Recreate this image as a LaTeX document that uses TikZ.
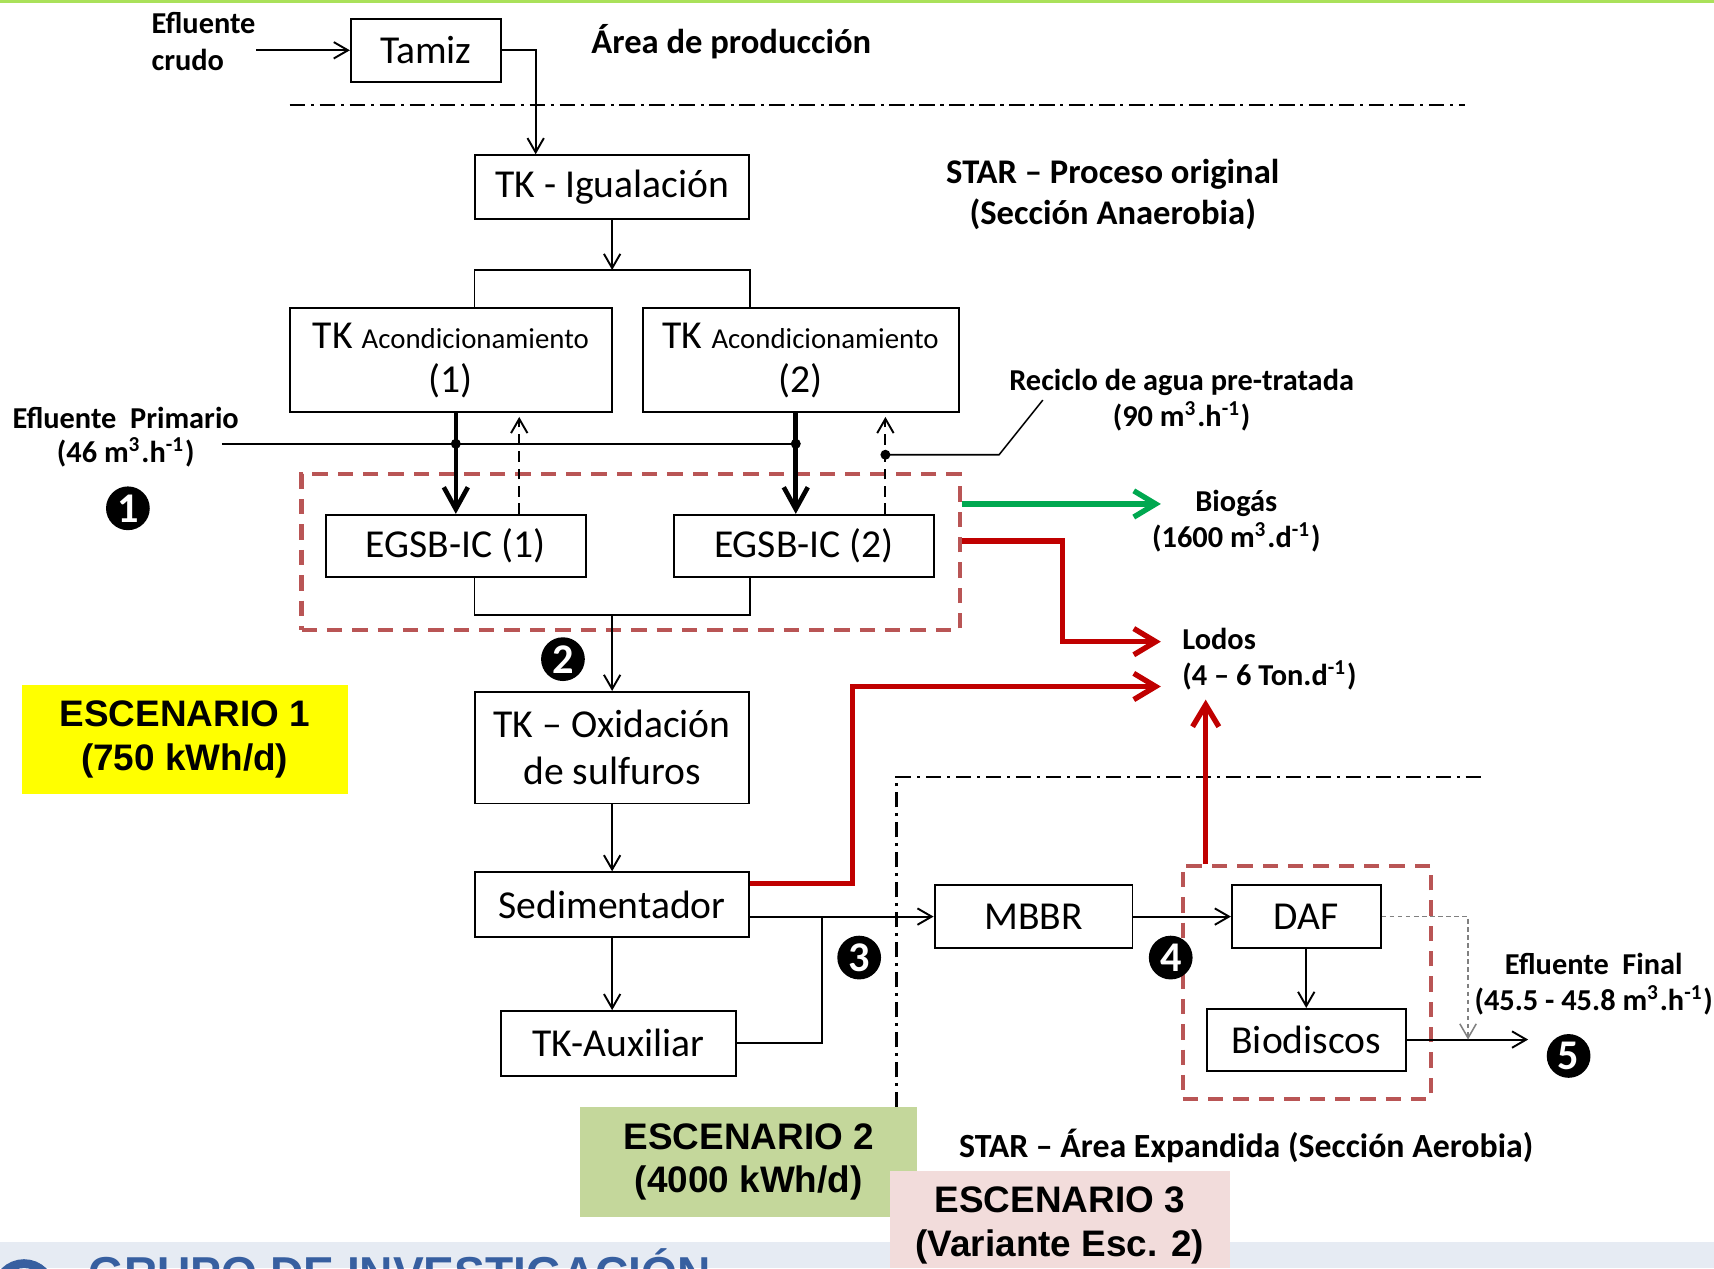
\documentclass[tikz,border=0pt]{standalone}
\usepackage{fontspec}
\setmainfont{Carlito}
\newfontfamily\arialfont{Liberation Sans}
\usetikzlibrary{calc}
\usetikzlibrary{arrows.meta}
\definecolor{topgreen}{RGB}{170,225,90}
\definecolor{biogreen}{RGB}{0,168,80}
\definecolor{sludgered}{RGB}{192,0,0}
\definecolor{zonered}{RGB}{185,85,85}
\definecolor{esconeyel}{RGB}{255,255,0}
\definecolor{esctwogrn}{RGB}{196,215,155}
\definecolor{escthreepk}{RGB}{242,220,219}
\definecolor{bandgray}{RGB}{230,235,243}
\definecolor{grupoblue}{RGB}{55,95,160}
\newcommand*\boxfont{\fontsize{10.3}{12.2}\selectfont}
\newcommand*\acfont{\fontsize{7.5}{11.4}\selectfont}
\newcommand*\labfont{\fontsize{7.9}{9.4}\selectfont\bfseries}
\newcommand*\titfont{\fontsize{9}{10.8}\selectfont\bfseries}
\newcommand*\scenfont{\arialfont\fontsize{9.6}{11.4}\selectfont\bfseries}
\newcommand*\numfont{\fontsize{11}{11}\selectfont\bfseries}
\newcommand*\mh{m\textsuperscript{3}.h\textsuperscript{-1}}

\begin{document}
\begin{tikzpicture}[
	x=0.01cm, y=-0.01cm,
	>={Straight Barb[length=1.3mm,width=1.5mm]},
	tkbox/.style={draw, line width=0.5pt, inner sep=0pt, align=center, font=\boxfont},
	lbl/.style={inner sep=0pt, align=center, font=\labfont},
	numdot/.style={circle, fill=black, text=white, inner sep=0pt, minimum size=0.4cm, font=\numfont},
	scenario/.style={inner sep=0pt, align=center, font=\scenfont},
	flowarr/.style={line width=0.5pt, ->},
	feedarr/.style={line width=1.2pt, -{Straight Barb[length=2mm,width=2.2mm]}},
	backarr/.style={line width=0.5pt, dash pattern=on 2.8pt off 1.7pt, ->, shorten >=1pt},
	dotarr/.style={gray, line width=0.4pt, dash pattern=on 1.2pt off 0.9pt, ->},
	gasarr/.style={biogreen, line width=1.4pt, -{Straight Barb[length=2mm,width=2.4mm]}},
	sludgearr/.style={sludgered, line width=1.4pt, -{Straight Barb[length=2mm,width=2.4mm]}},
	zonebox/.style={draw=zonered, line width=1.1pt, dash pattern=on 4pt off 2.6pt, inner sep=0pt},
	arealine/.style={line width=0.6pt, dash pattern=on 4pt off 1.5pt on 0.8pt off 1.5pt}]

	\useasboundingbox (0,0) rectangle (1568,1160);
	\fill[topgreen] (0,0) rectangle (1568,3);

	% production area
	\node[lbl, anchor=west, align=left] (crudo) at (138,38) {Efluente\\crudo};
	\node[tkbox, minimum width=1.37cm, minimum height=0.58cm] (tamiz) at (389.5,46) {Tamiz};
	\node[lbl, font=\titfont] (prod) at (669,38) {Área de producción};
	\draw[arealine] (265,96) -- (1340,96);

	% anaerobic section
	\node[tkbox, minimum width=2.5cm, minimum height=0.58cm] (igual) at (560,171) {TK - Igualación};
	\node[lbl, font=\titfont] (star1) at (1018,178) {STAR – Proceso original\\(Sección Anaerobia)};
	\node[tkbox, font=\fontsize{10.3}{11.4}\selectfont, minimum width=2.95cm, minimum height=0.95cm] (acond1) at (412.5,329.5) {TK {\acfont Acondicionamiento}\\(1)};
	\node[tkbox, font=\fontsize{10.3}{11.4}\selectfont, minimum width=2.89cm, minimum height=0.95cm] (acond2) at (732.5,329.5) {TK {\acfont Acondicionamiento}\\(2)};
	\node[zonebox, minimum width=6.02cm, minimum height=1.42cm] (anaer) at (577,505) {};
	\node[tkbox, minimum width=2.38cm, minimum height=0.57cm] (egsb1) at (417,499.5) {EGSB-IC (1)};
	\node[tkbox, minimum width=2.37cm, minimum height=0.57cm] (egsb2) at (735.5,499.5) {EGSB-IC (2)};
	\node[lbl, font=\fontsize{7.9}{8.8}\selectfont\bfseries] (prim) at (115,400) {Efluente\ \ Primario\\(46 \mh)};
	\node[numdot] (n1) at (117,465) {1};
	\node[lbl] (reciclo) at (1081,366) {Reciclo de agua pre-tratada\\(90 \mh)};

	\draw[flowarr] (crudo.east |- tamiz.west) -- (tamiz.west);
	\draw[flowarr] (tamiz.east) -| ($(igual.north west)+(56,0)$);

	\coordinate (tsplit) at (560,247);
	\draw[flowarr] (igual.south) -- (tsplit);
	\draw[line width=0.5pt] (acond1.north -| igual.west) |- (tsplit) -| (acond2.north -| igual.east);

	\coordinate (pin) at (203,406);
	\coordinate (j1) at (417,406);
	\coordinate (j2) at (728,406);
	\coordinate (rc1) at (475,406);
	\coordinate (rc2) at (810,416);
	\coordinate (lead) at (954,366);
	\draw[line width=0.5pt] (pin) -- (j2);
	\draw[feedarr] (acond1.south -| j1) -- (egsb1.north -| j1);
	\draw[feedarr] (acond2.south -| j2) -- (egsb2.north -| j2);
	\fill (j1) circle (1.3pt);
	\fill (j2) circle (1.3pt);
	\draw[backarr] (egsb1.north -| rc1) -- (acond1.south -| rc1);
	\draw[backarr] (egsb2.north -| rc2) -- (acond2.south -| rc2);
	\fill (rc2) circle (1.3pt);
	\draw[line width=0.4pt] (rc2) -- ++(104,0) -- (lead);

	% gas and sludge
	\node[lbl] (biogas) at (1131,477) {Biogás\\(1600 m\textsuperscript{3}.d\textsuperscript{-1})};
	\node[lbl, anchor=west, align=left] (lodos) at (1081,603) {Lodos\\(4 – 6 Ton.d\textsuperscript{-1})};
	\coordinate (gasend) at (1062,461);
	\coordinate (ld1) at (1062,587);
	\coordinate (ld2) at (1062,628);
	\coordinate (ld3) at (1103,640);
	\draw[gasarr] (anaer.east |- gasend) -- (gasend);
	\draw[sludgearr] ($(anaer.east)+(0,-10)$) -- ++(92,0) |- (ld1);

	% sulfide line
	\node[tkbox, minimum width=2.5cm, minimum height=1.02cm] (oxid) at (560,684) {TK – Oxidación\\de sulfuros};
	\node[tkbox, minimum width=2.5cm, minimum height=0.59cm] (sedim) at (560,827.5) {Sedimentador};
	\node[tkbox, minimum width=2.15cm, minimum height=0.59cm] (aux) at (565.5,954.5) {TK-Auxiliar};
	\coordinate (bsplit) at (560,563);
	\draw[line width=0.5pt] (egsb1.south -| oxid.west) |- (bsplit) -| (egsb2.south -| oxid.east);
	\draw[flowarr] (bsplit) -- (oxid.north);
	\node[numdot] (n2) at (515,603) {2};
	\draw[flowarr] (oxid.south) -- (sedim.north);
	\draw[flowarr] (sedim.south) -- (sedim.south |- aux.north);
	\draw[sludgearr] ($(sedim.east)+(0,-19)$) -- ++(94,0) |- (ld2);

	\node[scenario, fill=esconeyel, minimum width=2.98cm, minimum height=0.99cm] (esc1) at (169,676.5) {ESCENARIO 1\\(750 kWh/d)};

	% aerobic section
	\draw[arealine] (820,1013) |- (1358,711);
	\node[tkbox, minimum width=1.81cm, minimum height=0.57cm] (mbbr) at (945.5,838.5) {MBBR};
	\node[zonebox, minimum width=2.27cm, minimum height=2.13cm] (aerob) at (1195.5,898.5) {};
	\node[tkbox, minimum width=1.36cm, minimum height=0.57cm] (daf) at (1195,838.5) {DAF};
	\node[tkbox, minimum width=1.82cm, minimum height=0.57cm] (bio) at (1195,951.5) {Biodiscos};
	\coordinate (jx) at (752,838);
	\coordinate (efin) at (1398,951);
	\coordinate (dj) at (1343,951);
	\draw[flowarr] (sedim.east |- mbbr.west) -- (mbbr.west);
	\draw[line width=0.5pt] (aux.east) -| (jx);
	\node[numdot] (n3) at (786,876) {3};
	\draw[flowarr] (mbbr.east) -- (daf.west);
	\node[numdot] (n4) at (1071,876) {4};
	\draw[flowarr] (daf.south) -- (bio.north);
	\draw[flowarr] (bio.east |- efin) -- (efin);
	\draw[dotarr] (daf.east) -| (dj);
	\draw[sludgearr] (aerob.north -| ld3) -- (ld3);
	\node[lbl] (efinal) at (1458,900) {Efluente\ \ Final\\(45.5 - 45.8 \mh)};
	\node[numdot] (n5) at (1435,966) {5};
	\node[lbl, font=\fontsize{8.8}{10}\selectfont\bfseries] (star2) at (1140,1048) {STAR – Área Expandida (Sección Aerobia)};

	\node[scenario, fill=esctwogrn, minimum width=3.08cm, minimum height=1.0cm] (esc2) at (685,1063) {ESCENARIO 2\\(4000 kWh/d)};

	% footer band
	\fill[bandgray] (0,1136) rectangle (1568,1160);
	\begin{scope}
		\clip (0,1136) rectangle (1568,1160);
		\draw[grupoblue, line width=2.3pt] (22,1181) circle (0.25cm);
		\node[anchor=base west, inner sep=0pt, text=grupoblue, font=\arialfont\fontsize{12}{12}\selectfont\bfseries] (grupo) at (80,1180) {GRUPO DE INVESTIGACIÓN};
	\end{scope}
	\fill[escthreepk] (814,1071) rectangle (1125,1160);
	\node[scenario] (esc3) at (969.5,1121) {ESCENARIO 3\\(Variante Esc. 2)};

\end{tikzpicture}
\end{document}
